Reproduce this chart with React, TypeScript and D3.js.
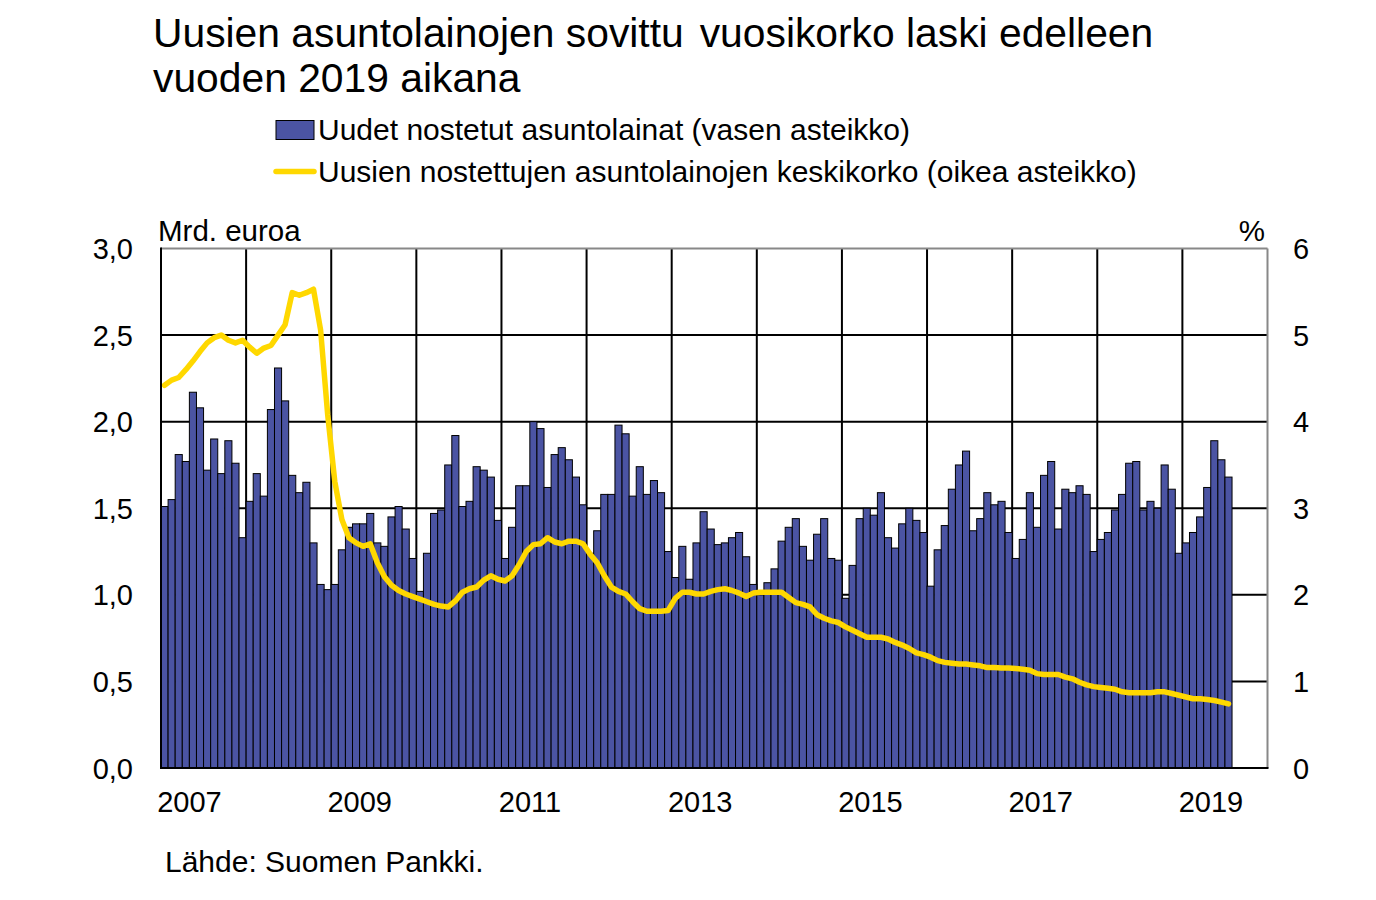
import React from "react";
import * as d3 from "d3";

const startYear = 2007;
const yearLabels = ["2007", "2009", "2011", "2013", "2015", "2017", "2019"];
const leftTicks = [0, 0.5, 1, 1.5, 2, 2.5, 3];
const rightTicks = [0, 1, 2, 3, 4, 5, 6];

// Monthly, Jan 2007 – Jul 2019, bn euro
const loans = [
  1.51, 1.55, 1.81, 1.77, 2.17, 2.08, 1.72, 1.90, 1.70, 1.89, 1.76, 1.33,
  1.54, 1.70, 1.57, 2.07, 2.31, 2.12, 1.69, 1.59, 1.65, 1.30, 1.06, 1.03,
  1.06, 1.26, 1.39, 1.41, 1.41, 1.47, 1.30, 1.28, 1.45, 1.51, 1.38, 1.21,
  1.02, 1.24, 1.47, 1.49, 1.75, 1.92, 1.51, 1.54, 1.74, 1.72, 1.68, 1.43,
  1.21, 1.39, 1.63, 1.63, 2.00, 1.96, 1.62, 1.81, 1.85, 1.78, 1.68, 1.52,
  1.24, 1.37, 1.58, 1.58, 1.98, 1.93, 1.57, 1.74, 1.58, 1.66, 1.59, 1.25,
  1.10, 1.28, 1.09, 1.30, 1.48, 1.38, 1.29, 1.30, 1.33, 1.36, 1.22, 1.06,
  1.00, 1.07, 1.15, 1.31, 1.39, 1.44, 1.28, 1.20, 1.35, 1.44, 1.21, 1.20,
  0.98, 1.17, 1.44, 1.50, 1.46, 1.59, 1.33, 1.27, 1.41, 1.50, 1.43, 1.36,
  1.05, 1.26, 1.40, 1.61, 1.75, 1.83, 1.37, 1.44, 1.59, 1.52, 1.54, 1.36,
  1.21, 1.32, 1.59, 1.39, 1.69, 1.77, 1.38, 1.61, 1.59, 1.63, 1.58, 1.25,
  1.32, 1.36, 1.49, 1.58, 1.76, 1.77, 1.49, 1.54, 1.50, 1.75, 1.61, 1.24,
  1.30, 1.36, 1.45, 1.62, 1.89, 1.78, 1.68,
];

// Monthly average interest rate, %
const rate = [
  4.42, 4.48, 4.51, 4.60, 4.70, 4.81, 4.91, 4.97, 5.00, 4.94, 4.91, 4.94,
  4.86, 4.79, 4.85, 4.88, 5.00, 5.12, 5.49, 5.46, 5.49, 5.53, 5.06, 4.08,
  3.31, 2.87, 2.66, 2.60, 2.56, 2.59, 2.37, 2.21, 2.11, 2.05, 2.01, 1.98,
  1.95, 1.92, 1.89, 1.87, 1.86, 1.93, 2.03, 2.07, 2.09, 2.17, 2.22, 2.18,
  2.16, 2.22, 2.35, 2.50, 2.58, 2.59, 2.66, 2.61, 2.59, 2.62, 2.62, 2.59,
  2.47, 2.37, 2.22, 2.09, 2.04, 2.01, 1.92, 1.84, 1.81, 1.81, 1.81, 1.82,
  1.96, 2.03, 2.03, 2.01, 2.01, 2.04, 2.06, 2.07, 2.05, 2.02, 1.98, 2.02,
  2.03, 2.03, 2.03, 2.03, 1.97, 1.91, 1.89, 1.86, 1.77, 1.73, 1.70, 1.68,
  1.63, 1.59, 1.55, 1.51, 1.51, 1.51, 1.49, 1.45, 1.42, 1.38, 1.33, 1.31,
  1.28, 1.24, 1.22, 1.21, 1.20, 1.20, 1.19, 1.18, 1.16, 1.16, 1.155, 1.155,
  1.15, 1.14, 1.13, 1.09, 1.08, 1.08, 1.08, 1.05, 1.03, 0.99, 0.96, 0.94,
  0.93, 0.92, 0.91, 0.88, 0.87, 0.87, 0.87, 0.87, 0.88, 0.88, 0.86, 0.84,
  0.82, 0.80, 0.80, 0.79, 0.78, 0.76, 0.74,
];

const FONT = "'Liberation Sans', Arial, sans-serif";
const BAR = "#4b54a3";
const YELLOW = "#ffd800";

export default function App() {
  const left = 161, right = 1267.5, top = 248.5, bottom = 768;
  const totalMonths = 13 * 12;
  const x = d3.scaleLinear().domain([0, totalMonths]).range([left, right]);
  const yL = d3.scaleLinear().domain([0, 3]).range([bottom, top]);
  const yR = d3.scaleLinear().domain([0, 6]).range([bottom, top]);

  const line = d3
    .line<number>()
    .x((_, i) => x(i + 0.5))
    .y((d) => yR(d));

  const yearStarts = d3.range(1, 13).map((k) => k * 12);

  return (
    <svg
      width={1376}
      height={900}
      style={{ position: "absolute", left: 0, top: 0, background: "#fff" }}
      fontFamily={FONT}
    >
      {/* Title */}
      <text x={153} y={47} fontSize={40.8} fill="#000">
        Uusien asuntolainojen sovittu
        <tspan dx={16}>vuosikorko laski edelleen</tspan>
      </text>
      <text x={153} y={92} fontSize={40.8} fill="#000">
        vuoden 2019 aikana
      </text>

      {/* Legend */}
      <rect x={276} y={120.5} width={38} height={19} fill={BAR} stroke="#000" strokeWidth={1} />
      <text x={318} y={140} fontSize={30} fill="#000">
        Uudet nostetut asuntolainat (vasen asteikko)
      </text>
      <line x1={276} x2={314} y1={171.5} y2={171.5} stroke={YELLOW} strokeWidth={5.5} strokeLinecap="round" />
      <text x={318} y={182} fontSize={30} fill="#000">
        Uusien nostettujen asuntolainojen keskikorko (oikea asteikko)
      </text>

      {/* Axis titles */}
      <text x={158} y={241} fontSize={29.5} fill="#000">Mrd. euroa</text>
      <text x={1265} y={241} fontSize={29.5} fill="#000" textAnchor="end">%</text>

      {/* Grid */}
      {leftTicks.slice(1, -1).map((t) => (
        <line key={"h" + t} x1={left} x2={right} y1={yL(t)} y2={yL(t)} stroke="#000" strokeWidth={2} />
      ))}
      {yearStarts.map((m) => (
        <line key={"v" + m} x1={x(m)} x2={x(m)} y1={top} y2={bottom} stroke="#000" strokeWidth={2} />
      ))}

      {/* Bars */}
      {loans.map((v, i) => (
        <rect
          key={"b" + i}
          x={x(i)}
          y={yL(v)}
          width={x(i + 1) - x(i)}
          height={yL(0) - yL(v)}
          fill={BAR}
          stroke="#000"
          strokeWidth={1}
        />
      ))}

      {/* Rate line */}
      <path d={line(rate) || ""} fill="none" stroke={YELLOW} strokeWidth={5.5} strokeLinejoin="round" strokeLinecap="round" />

      {/* Frame */}
      <line x1={left} x2={right} y1={top} y2={top} stroke="#888" strokeWidth={2} />
      <line x1={right} x2={right} y1={top} y2={bottom} stroke="#888" strokeWidth={2} />
      <line x1={left} x2={left} y1={top - 1} y2={bottom + 1} stroke="#000" strokeWidth={2} />
      <line x1={left - 1} x2={right + 1} y1={bottom} y2={bottom} stroke="#000" strokeWidth={2} />

      {/* Left ticks */}
      {leftTicks.map((t) => (
        <text key={"l" + t} x={133} y={yL(t) + 10.5} fontSize={29} textAnchor="end" fill="#000">
          {t.toFixed(1).replace(".", ",")}
        </text>
      ))}
      {/* Right ticks */}
      {rightTicks.map((t) => (
        <text key={"r" + t} x={1293} y={yR(t) + 10.5} fontSize={29} fill="#000">
          {String(t)}
        </text>
      ))}

      {/* Year labels */}
      {yearLabels.map((lab) => (
        <text
          key={lab}
          x={x((+lab - startYear) * 12) + 28.5}
          y={812}
          fontSize={29}
          textAnchor="middle"
          fill="#000"
        >
          {lab}
        </text>
      ))}

      {/* Source */}
      <text x={165} y={872} fontSize={30} fill="#000">Lähde: Suomen Pankki.</text>
    </svg>
  );
}
